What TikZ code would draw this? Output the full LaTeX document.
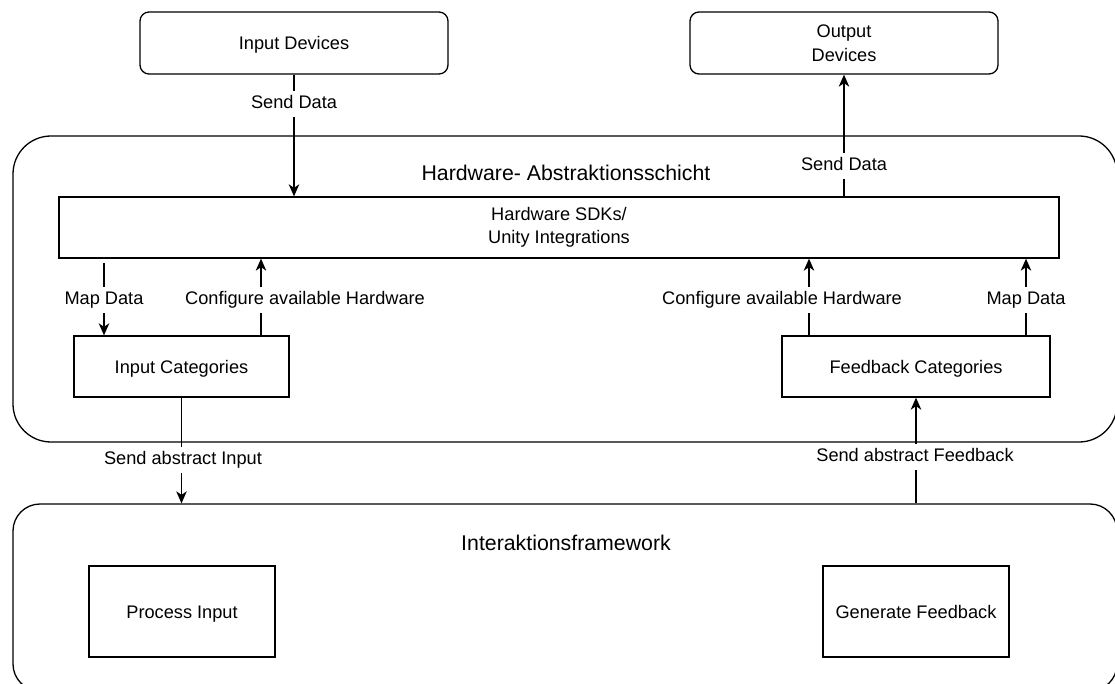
\documentclass[tikz,border=0pt]{standalone}
\usepackage{fontspec}
\setmainfont{Liberation Sans}
\usetikzlibrary{arrows.meta}
\begin{document}
\begin{tikzpicture}[x=1pt,y=-1pt,
  line width=1.3pt,
  every node/.style={font=\fontsize{18.2}{23.5}\selectfont},
  box/.style={draw, rectangle, inner sep=0pt, align=center},
  one/.style={text height=13.2pt, text depth=0pt},
  rbox/.style={box, rounded corners=9pt},
  layer/.style={draw, rectangle, inner sep=0pt, rounded corners=#1},
  title/.style={font=\fontsize{21.3}{25}\selectfont, inner sep=0pt},
  lbl/.style={fill=white, inner xsep=1pt, inner ysep=4pt, text height=13.5pt, text depth=4pt},
  arr/.style={-{Stealth[length=12pt,width=10.5pt,inset=3.5pt]}},
]
\useasboundingbox (0,0) rectangle (1115,684);

% layers
\node[layer=38pt, minimum width=1104pt, minimum height=306pt] (hal) at (565,289) {};
\node[title] (haltitle) at (566,173) {Hardware- Abstraktionsschicht};
\node[layer=27pt, minimum width=1104pt, minimum height=187pt] (ifw) at (565,597.5) {};
\node[title] (ifwtitle) at (566,543) {Interaktionsframework};

% boxes
\node[rbox, one, minimum width=308pt, minimum height=62pt] (indev) at (294,43) {Input Devices};
\node[rbox, minimum width=308pt, minimum height=62pt] (outdev) at (844,43) {Output\\Devices};
\node[box, minimum width=1000pt, minimum height=61pt] (sdk) at (559,227.5) {\raisebox{-2pt}{Hardware SDKs/}\\\raisebox{-2pt}{Unity Integrations}};
\node[box, one, minimum width=215pt, minimum height=61pt] (incat) at (181.5,366.5) {Input Categories};
\node[box, one, minimum width=268pt, minimum height=61pt] (fbcat) at (916,366.5) {Feedback Categories};
\node[box, one, minimum width=186pt, minimum height=91pt] (proc) at (182,611.5) {Process Input};
\node[box, one, minimum width=186pt, minimum height=91pt] (gen) at (916,611.5) {Generate Feedback};

% connectors
\draw[arr] (indev.south) -- (indev.south |- sdk.north);
\draw[arr] (outdev.south |- sdk.north) -- (outdev.south);
\coordinate (mdl) at (104,263);
\draw[arr] (mdl) -- (mdl |- incat.north);
\coordinate (cfl) at (261,0);
\draw[arr] (cfl |- incat.north) -- (cfl |- sdk.south);
\coordinate (cfr) at (809,0);
\draw[arr] (cfr |- fbcat.north) -- (cfr |- sdk.south);
\coordinate (mdr) at (1026,0);
\draw[arr] (mdr |- fbcat.north) -- (mdr |- sdk.south);
\draw[arr] (incat.south) -- (incat.south |- ifw.north);
\draw[arr] (fbcat.south |- ifw.north) -- (fbcat.south);

% connector labels
\node[lbl] (l1) at (294,104) {Send Data};
\node[lbl] (l2) at (844,166) {Send Data};
\node[lbl] (l3) at (104,300) {Map Data};
\node[lbl] (l4) at (305,300) {Configure available Hardware};
\node[lbl] (l5) at (782,300) {Configure available Hardware};
\node[lbl] (l6) at (1026,300) {Map Data};
\node[lbl] (l7) at (183,460) {Send abstract Input};
\node[lbl] (l8) at (915,457) {Send abstract Feedback};
\end{tikzpicture}
\end{document}
